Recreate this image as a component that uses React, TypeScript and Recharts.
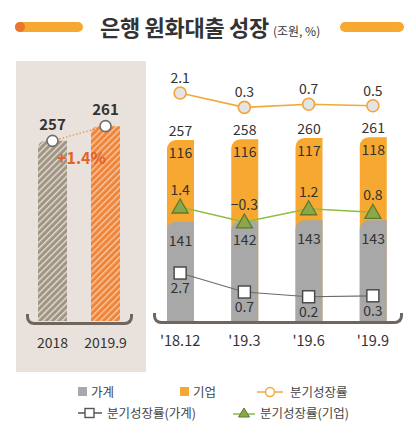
import React from 'react';
import { ComposedChart, Bar, Line, XAxis, YAxis, LabelList } from 'recharts';

const yearLabels = ['2018', '2019.9'];
const yearTotals = [257, 261];

const quarterLabels = ["'18.12", "'19.3", "'19.6", "'19.9"];
const household = [141, 142, 143, 143];
const corporate = [116, 116, 117, 118];
const totals = [257, 258, 260, 261];
const growthAll = [2.1, 0.3, 0.7, 0.5];
const growthHousehold = [2.7, 0.7, 0.2, 0.3];
const growthCorporate = [1.4, -0.3, 1.2, 0.8];

const leftData = yearLabels.map((name, i) => ({ name, v: yearTotals[i] }));
const rightData = quarterLabels.map((label, i) => ({
  label,
  hh: household[i],
  corp: corporate[i],
  total: totals[i],
  gAll: growthAll[i],
  gHH: growthHousehold[i],
  gCorp: growthCorporate[i],
}));

const FONT = '"Noto Sans CJK KR", "Noto Sans", sans-serif';
const TXT = '#333333';
const ORANGE = '#f6a830';
const GRAY = '#a8a8a8';
const GREEN = '#8dbd45';

const fmt = (v: any) => (v < 0 ? '\u2212' + Math.abs(v) : String(v));

const CircleDot = (props: any) => {
  const { cx, cy, index } = props;
  return <circle key={'c' + index} cx={cx} cy={cy} r={6} fill="#e4e4e4" stroke="#f0a53a" strokeWidth={1.6} />;
};
const SquareDot = (props: any) => {
  const { cx, cy, index } = props;
  return <rect key={'s' + index} x={cx - 6} y={cy - 6} width={12} height={12} fill="#ffffff" stroke="#444" strokeWidth={1.4} />;
};
const TriDot = (props: any) => {
  const { cx, cy, index } = props;
  return (
    <polygon
      key={'t' + index}
      points={`${cx},${cy - 8} ${cx - 8},${cy + 6} ${cx + 8},${cy + 6}`}
      fill="#8aa84a"
      stroke="#5d7a2c"
      strokeWidth={1.3}
    />
  );
};
const WhiteDot = (props: any) => {
  const { cx, cy, index } = props;
  return <circle key={'w' + index} cx={cx} cy={cy} r={5.5} fill="#ffffff" stroke="#6e6e6e" strokeWidth={1.6} />;
};

const Bracket = ({ left, top, width }: { left: number; top: number; width: number }) => (
  <div
    style={{
      position: 'absolute',
      left,
      top,
      width,
      height: 11,
      borderLeft: '3px solid #6f675f',
      borderRight: '3px solid #6f675f',
      borderBottom: '3px solid #6f675f',
      borderRadius: '0 0 8px 8px',
      boxSizing: 'border-box',
    }}
  />
);

export default function App() {
  return (
    <div style={{ position: 'absolute', left: 0, top: 0, width: 416, height: 436, background: '#ffffff', fontFamily: FONT, overflow: 'hidden' }}>
      {/* title */}
      <div style={{ position: 'absolute', left: 15, top: 22, width: 68, height: 10, borderRadius: 5, background: ORANGE }} />
      <div style={{ position: 'absolute', left: 15, top: 22, width: 10, height: 10, borderRadius: 5, background: '#e8762c' }} />
      <div style={{ position: 'absolute', left: 340, top: 22, width: 64, height: 10, borderRadius: 5, background: ORANGE }} />
      <div style={{ position: 'absolute', left: 100, top: 11, whiteSpace: 'nowrap', color: TXT, lineHeight: '30px' }}>
        <span style={{ fontSize: 22, fontWeight: 700, letterSpacing: -0.3 }}>은행 원화대출 성장</span>
        <span style={{ fontSize: 12, marginLeft: 4 }}>(조원, %)</span>
      </div>

      {/* left panel background */}
      <div style={{ position: 'absolute', left: 16, top: 61, width: 130, height: 311, background: '#e9e2dc' }} />
      <Bracket left={26} top={314} width={107} />
      <Bracket left={153} top={313} width={250} />

      <div style={{ position: 'absolute', left: 0, top: 0 }}>
        <ComposedChart width={160} height={360} data={leftData} margin={{ top: 60, right: 28, bottom: 0, left: 26 }}>
          <defs>
            <pattern id="hatchGray" width="4.5" height="4.5" patternUnits="userSpaceOnUse" patternTransform="rotate(45)">
              <rect width="4.5" height="4.5" fill="#a09584" />
              <rect width="1.4" height="4.5" fill="#e2dbd2" />
            </pattern>
            <pattern id="hatchOrange" width="4.5" height="4.5" patternUnits="userSpaceOnUse" patternTransform="rotate(45)">
              <rect width="4.5" height="4.5" fill="#ee853a" />
              <rect width="1.4" height="4.5" fill="#f9c8a2" />
            </pattern>
          </defs>
          <XAxis
            dataKey="name"
            axisLine={false}
            tickLine={false}
            tickSize={0}
            tickMargin={17}
            height={39}
            interval={0}
            tick={{ fontSize: 14, fill: TXT, fontFamily: FONT }}
          />
          <YAxis yAxisId="l" hide domain={[208, 279]} allowDataOverflow />
          <Bar yAxisId="l" dataKey="v" barSize={29} radius={[8, 0, 0, 0]} isAnimationActive={false}
            shape={(p: any) => {
              const fill = p.index === 0 ? 'url(#hatchGray)' : 'url(#hatchOrange)';
              const { x, y, width, height } = p;
              const r = 8;
              const d = `M${x},${y + height} L${x},${y + r} Q${x},${y} ${x + r},${y} L${x + width},${y} L${x + width},${y + height} Z`;
              return <path d={d} fill={fill} />;
            }}
          />
          <Line yAxisId="l" dataKey="v" stroke="#f08a3c" strokeWidth={1.2} strokeDasharray="1.5 2" dot={<WhiteDot />} isAnimationActive={false}>
            <LabelList dataKey="v" position="top" offset={11} style={{ fontSize: 15, fontWeight: 600, fill: TXT, fontFamily: FONT }} />
          </Line>
        </ComposedChart>
      </div>
      <div style={{ position: 'absolute', left: 57, top: 146, color: '#e2622b', fontSize: 16, fontWeight: 700, lineHeight: '22px' }}>+1.4%</div>

      <div style={{ position: 'absolute', left: 0, top: 0 }}>
        <ComposedChart width={416} height={360} data={rightData} margin={{ top: 60, right: 11, bottom: 0, left: 148 }} barGap={-27}>
          <XAxis
            dataKey="label"
            axisLine={false}
            tickLine={false}
            tickSize={0}
            tickMargin={15}
            height={39}
            interval={0}
            tick={{ fontSize: 14.5, fill: TXT, fontFamily: FONT }}
          />
          <YAxis yAxisId="bar" hide domain={[0, 370.6]} allowDataOverflow />
          <YAxis yAxisId="gAll" hide domain={[-26.4, 6.225]} allowDataOverflow />
          <YAxis yAxisId="gCorp" hide domain={[-11.55, 18.1]} allowDataOverflow />
          <YAxis yAxisId="gHH" hide domain={[-2.35, 25.12]} allowDataOverflow />
          <Bar yAxisId="bar" dataKey="total" barSize={27} fill={ORANGE} radius={[9, 0, 0, 0]} isAnimationActive={false}>
            <LabelList dataKey="total" position="top" offset={4} style={{ fontSize: 14, fill: TXT, fontFamily: FONT }} />
            <LabelList dataKey="corp" position="insideTop" offset={8} style={{ fontSize: 14, fill: TXT, fontFamily: FONT }} />
          </Bar>
          <Bar yAxisId="bar" dataKey="hh" barSize={27} fill={GRAY} radius={[9, 0, 0, 0]} isAnimationActive={false}>
            <LabelList dataKey="hh" position="insideTop" offset={14} style={{ fontSize: 14, fill: TXT, fontFamily: FONT }} />
          </Bar>
          <Line yAxisId="gAll" dataKey="gAll" stroke="#f2a93b" strokeWidth={1.6} dot={<CircleDot />} isAnimationActive={false}>
            <LabelList dataKey="gAll" position="top" offset={10} style={{ fontSize: 14, fill: TXT, fontFamily: FONT }} />
          </Line>
          <Line yAxisId="gCorp" dataKey="gCorp" stroke={GREEN} strokeWidth={1.4} dot={<TriDot />} isAnimationActive={false}>
            <LabelList dataKey="gCorp" position="top" offset={12} formatter={fmt} style={{ fontSize: 14, fill: TXT, fontFamily: FONT }} />
          </Line>
          <Line yAxisId="gHH" dataKey="gHH" stroke="#6a6a6a" strokeWidth={1.2} dot={<SquareDot />} isAnimationActive={false}>
            <LabelList dataKey="gHH" position="bottom" offset={10} style={{ fontSize: 14, fill: TXT, fontFamily: FONT }} />
          </Line>
        </ComposedChart>
      </div>

      {/* legend */}
      <div style={{ position: 'absolute', left: 0, top: 0, fontSize: 12.5, color: '#444' }}>
        <div style={{ position: 'absolute', left: 78, top: 387, width: 9, height: 9, background: GRAY }} />
        <div style={{ position: 'absolute', left: 91, top: 383, lineHeight: '18px', whiteSpace: 'nowrap' }}>가계</div>
        <div style={{ position: 'absolute', left: 180, top: 387, width: 9, height: 9, background: ORANGE }} />
        <div style={{ position: 'absolute', left: 193, top: 383, lineHeight: '18px', whiteSpace: 'nowrap' }}>기업</div>
        <svg style={{ position: 'absolute', left: 256, top: 385 }} width={28} height={14}>
          <line x1={1} y1={7} x2={27} y2={7} stroke="#f2a93b" strokeWidth={1.5} />
          <circle cx={14} cy={7} r={4.5} fill="#fff" stroke="#f2a93b" strokeWidth={1.5} />
        </svg>
        <div style={{ position: 'absolute', left: 290, top: 383, lineHeight: '18px', whiteSpace: 'nowrap' }}>분기성장률</div>
        <svg style={{ position: 'absolute', left: 77, top: 406 }} width={26} height={14}>
          <line x1={1} y1={7} x2={25} y2={7} stroke="#555" strokeWidth={1.5} />
          <rect x={8} y={2.5} width={9} height={9} fill="#fff" stroke="#555" strokeWidth={1.4} />
        </svg>
        <div style={{ position: 'absolute', left: 107, top: 404, lineHeight: '18px', whiteSpace: 'nowrap' }}>분기성장률(가계)</div>
        <svg style={{ position: 'absolute', left: 232, top: 406 }} width={24} height={14}>
          <line x1={1} y1={8} x2={23} y2={8} stroke={GREEN} strokeWidth={1.5} />
          <polygon points="12,2 6.5,11 17.5,11" fill="#8aa84a" stroke="#5d7a2c" strokeWidth={1} />
        </svg>
        <div style={{ position: 'absolute', left: 260, top: 404, lineHeight: '18px', whiteSpace: 'nowrap' }}>분기성장률(기업)</div>
      </div>
    </div>
  );
}
